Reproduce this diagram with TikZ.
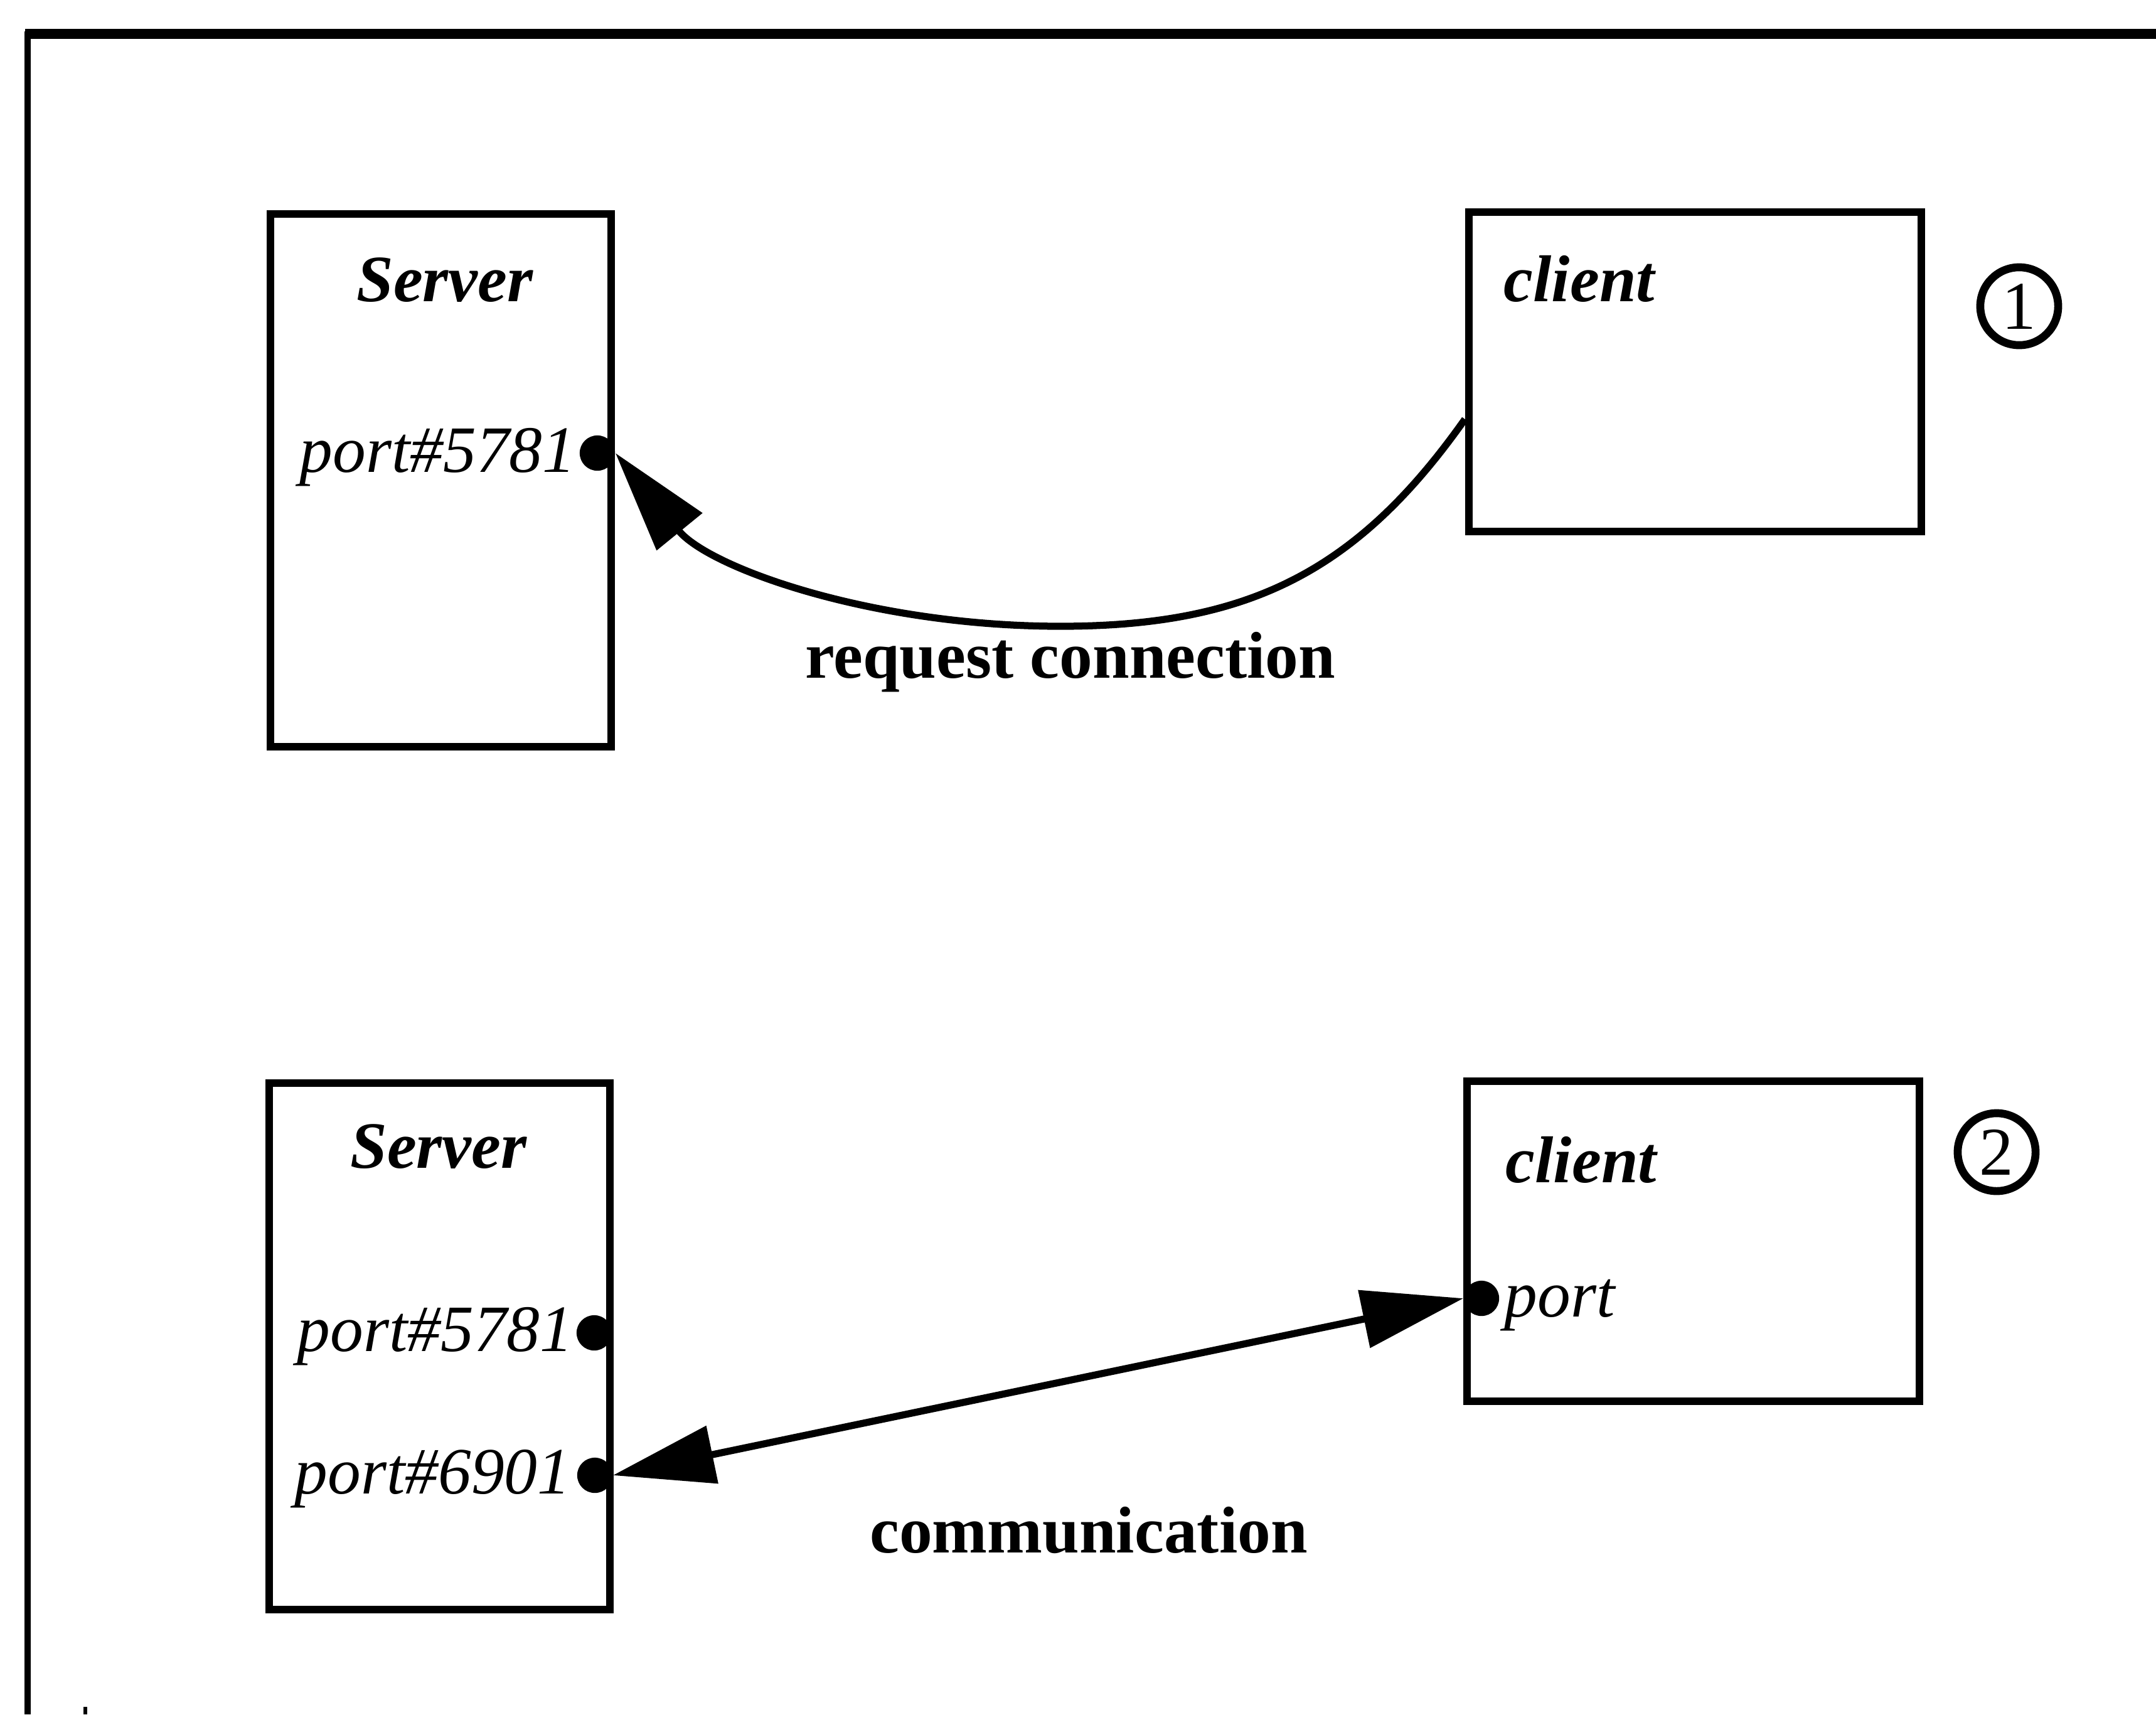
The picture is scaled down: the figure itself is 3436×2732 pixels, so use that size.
\documentclass[tikz,border=0pt]{standalone}
\usepackage{fontspec}
\setmainfont{Liberation Serif}
\usetikzlibrary{arrows.meta}
\begin{document}
\begin{tikzpicture}[x=0.01cm,y=-0.01cm,
  box/.style={draw, line width=3.5pt, rectangle, inner sep=0pt},
  dotnode/.style={circle, fill=black, inner sep=0pt, minimum size=16pt},
  boxtitle/.style={font=\fontsize{30}{36}\selectfont\bfseries\itshape, inner sep=0pt},
  portlbl/.style={font=\fontsize{30}{36}\selectfont\itshape, inner sep=0pt},
  conlbl/.style={font=\fontsize{30}{36}\selectfont\bfseries, inner sep=0pt},
  stepnum/.style={draw, circle, line width=3.6pt, minimum size=35.3pt, inner sep=0pt,
                  font=\fontsize{31}{36}\selectfont},
  conn/.style={line width=3.2pt},
  bigtri/.tip={Triangle[length=46pt,width=26pt]}
]
\useasboundingbox (0,0) rectangle (3436,2732);

% outer frame (open at right and bottom)
\draw[line width=4.5pt] (40,54) -- (3436,54);
\draw[line width=2.8pt] (44,50) -- (44,2732);
\draw[line width=1.5pt] (136,2720) -- (136,2732);

% ---- step 1 ----
\node[box, minimum width=5.43cm, minimum height=8.49cm] (s1) at (702.5,765.5) {};
\node[box, minimum width=7.21cm, minimum height=5.09cm] (c1) at (2701.5,592.5) {};
\node[boxtitle, anchor=base] (s1t) at (709,480) {Server};
\node[boxtitle, anchor=base west] (c1t) at (2396,480) {client};
\node[dotnode] (s1d) at (952,722) {};
\node[portlbl, anchor=base east] (s1p) at (918,752) {port\#5781};
\node[stepnum] (n1) at (3218,488) {1};

\path (c1.west) ++(0,75.5) coordinate (c1out);
\coordinate (reqlow) at (1690,998);
\draw[conn, -bigtri] (c1out) .. controls (2163,911) and (1990,998) .. (reqlow)
      .. controls (1390,998) and (1130,905) .. (s1d.east);
\node[conlbl, anchor=base] (reqlbl) at (1706,1080) {request connection};

% ---- step 2 ----
\node[box, minimum width=5.43cm, minimum height=8.39cm] (s2) at (700.5,2145.5) {};
\node[box, minimum width=7.21cm, minimum height=5.10cm] (c2) at (2698.5,1978) {};
\node[boxtitle, anchor=base] (s2t) at (699,1861) {Server};
\node[boxtitle, anchor=base west] (c2t) at (2399,1884) {client};
\node[dotnode] (s2d1) at (947,2124) {};
\node[dotnode] (s2d2) at (948,2351) {};
\node[portlbl, anchor=base east] (s2p1) at (914,2153) {port\#5781};
\node[portlbl, anchor=base east] (s2p2) at (910,2380) {port\#6901};
\node[dotnode] (c2d) at (2361,2069) {};
\node[portlbl, anchor=base west] (c2p) at (2397,2098) {port};
\node[stepnum] (n2) at (3182,1836) {2};

\draw[conn, bigtri-bigtri] (s2d2.east) -- (c2d.west);
\node[conlbl, anchor=base] (comlbl) at (1735,2474) {communication};
\end{tikzpicture}
\end{document}
